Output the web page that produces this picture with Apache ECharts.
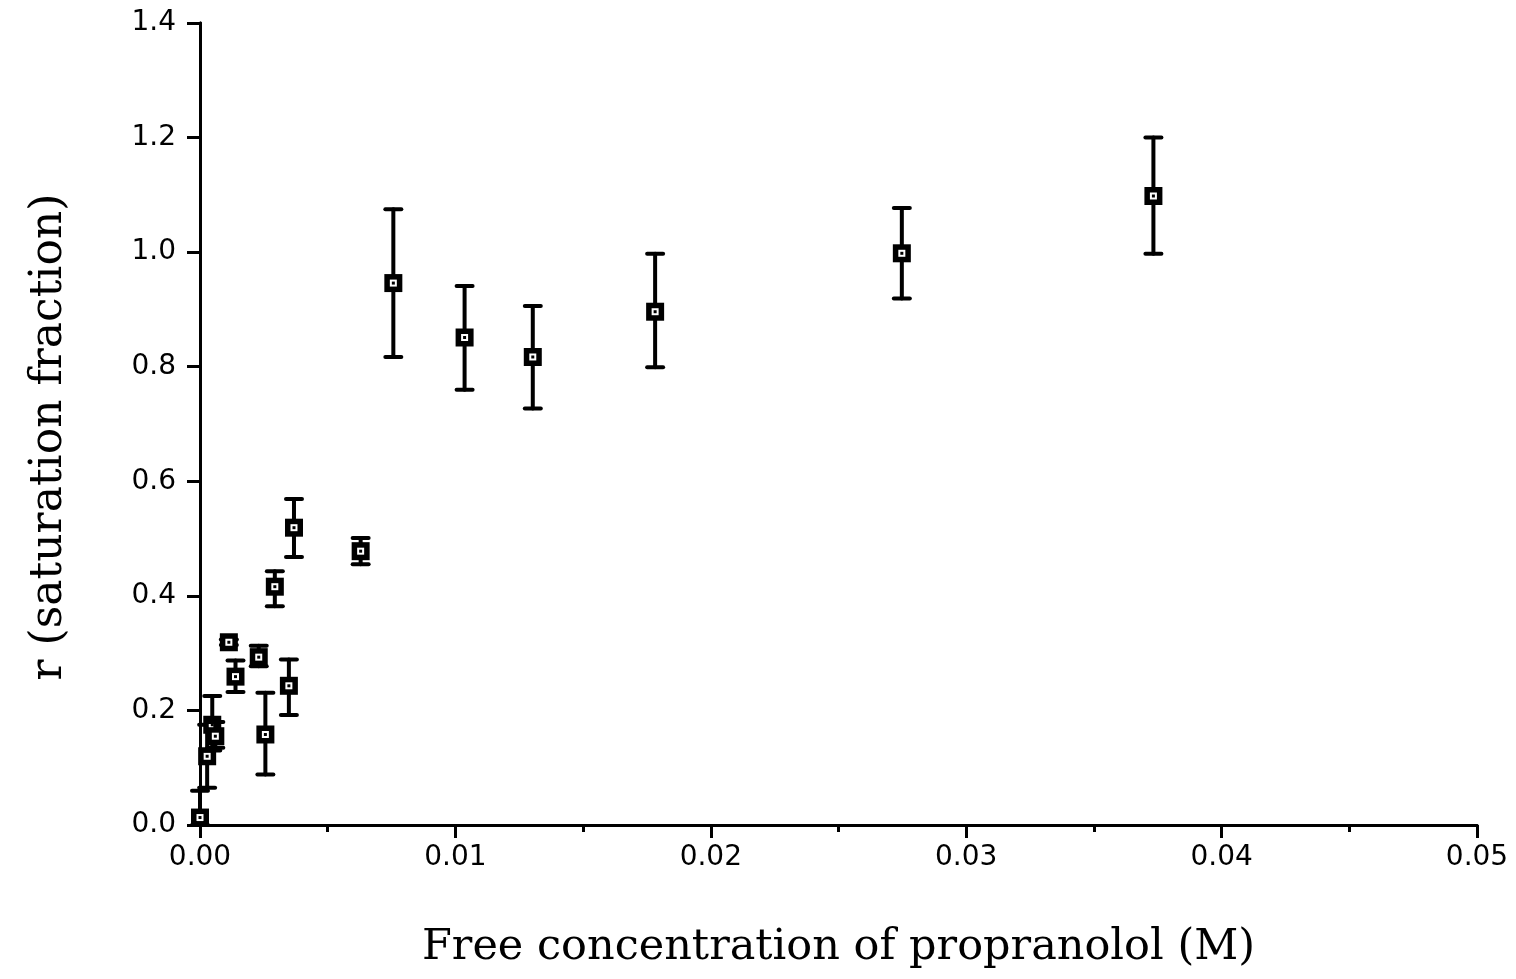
<!DOCTYPE html>
<html>
<head>
<meta charset="utf-8">
<script src="https://cdn.jsdelivr.net/npm/echarts@6/dist/echarts.min.js"></script>
<style>
html,body{margin:0;padding:0;background:#fff;}
#chart{width:1516px;height:979px;}
</style>
</head>
<body>
<div id="chart"></div>
<script>
// Free concentration of propranolol (M)
const conc   = [0.0000, 0.00028, 0.00048, 0.00060, 0.00113, 0.00139, 0.00230, 0.00256, 0.00293, 0.00348, 0.00368, 0.00629, 0.00757, 0.01036, 0.01303, 0.01782, 0.02748, 0.03733];
// r (saturation fraction)
const rVal   = [0.013, 0.120, 0.175, 0.155, 0.319, 0.259, 0.293, 0.158, 0.416, 0.243, 0.519, 0.478, 0.946, 0.851, 0.817, 0.896, 0.998, 1.098];
const rLow   = [0.000, 0.065, 0.130, 0.135, 0.314, 0.232, 0.277, 0.088, 0.382, 0.192, 0.468, 0.455, 0.817, 0.760, 0.727, 0.799, 0.919, 0.997];
const rHigh  = [0.060, 0.175, 0.225, 0.180, 0.324, 0.287, 0.313, 0.231, 0.443, 0.289, 0.569, 0.501, 1.075, 0.941, 0.906, 0.997, 1.077, 1.200];
const xTitle = 'Free concentration of propranolol (M)';
const yTitle = 'r (saturation fraction)';

const data = conc.map((c, i) => [c, rVal[i], rLow[i], rHigh[i]]);

const chart = echarts.init(document.getElementById('chart'), null, {renderer: 'canvas'});
const lbl = {color: '#000', fontFamily: 'DejaVu Sans', fontSize: 28};
const axLine = {show: true, lineStyle: {color: '#000', width: 3}};

chart.setOption({
  backgroundColor: '#fff',
  animation: false,
  grid: {left: 200, right: 39, top: 23, bottom: 154},
  xAxis: [{
    type: 'value', min: 0, max: 0.05, interval: 0.01, position: 'bottom',
    axisLine: axLine,
    axisTick: {show: true, length: 13, lineStyle: {color: '#000', width: 3}},
    minorTick: {show: true, splitNumber: 2, length: 7, lineStyle: {color: '#000', width: 3}},
    splitLine: {show: false},
    axisLabel: Object.assign({margin: 19, formatter: v => v.toFixed(2)}, lbl),
    name: xTitle, nameLocation: 'middle', nameGap: 101,
    nameTextStyle: {color: '#000', fontFamily: 'DejaVu Serif', fontSize: 43}
  }, {
    type: 'value', min: 0, max: 0.05, position: 'top',
    axisLine: axLine, axisTick: {show: false}, axisLabel: {show: false}, splitLine: {show: false}
  }],
  yAxis: [{
    type: 'value', min: 0, max: 1.4, interval: 0.2, position: 'left',
    axisLine: axLine,
    axisTick: {show: true, length: 13, lineStyle: {color: '#000', width: 3}},
    splitLine: {show: false},
    axisLabel: Object.assign({margin: 24, formatter: v => v.toFixed(1)}, lbl),
    name: yTitle, nameLocation: 'middle', nameGap: 128,
    nameTextStyle: {color: '#000', fontFamily: 'DejaVu Serif', fontSize: 44, padding: [0, 26, 0, 0]}
  }, {
    type: 'value', min: 0, max: 1.4, position: 'right',
    axisLine: axLine, axisTick: {show: false}, axisLabel: {show: false}, splitLine: {show: false}
  }],
  series: [{
    type: 'custom',
    xAxisIndex: 0, yAxisIndex: 0,
    data: data,
    renderItem: function (params, api) {
      const p = api.coord([api.value(0), api.value(1)]);
      const pl = api.coord([api.value(0), api.value(2)]);
      const ph = api.coord([api.value(0), api.value(3)]);
      const cap = 8, box = 18, ls = {stroke: '#000', lineWidth: 4, lineCap: 'round'};
      return {
        type: 'group',
        children: [
          {type: 'line', shape: {x1: p[0], y1: ph[1], x2: p[0], y2: pl[1]}, style: ls},
          {type: 'line', shape: {x1: p[0] - cap, y1: ph[1], x2: p[0] + cap, y2: ph[1]}, style: ls},
          {type: 'line', shape: {x1: p[0] - cap, y1: pl[1], x2: p[0] + cap, y2: pl[1]}, style: ls},
          {type: 'rect', shape: {x: p[0] - box / 2, y: p[1] - box / 2, width: box, height: box}, style: {fill: '#000'}},
          {type: 'rect', shape: {x: p[0] - 3.5, y: p[1] - 3.5, width: 7, height: 7}, style: {fill: '#fff'}},
          {type: 'rect', shape: {x: p[0] - 1.5, y: p[1] - 1.5, width: 3, height: 3}, style: {fill: '#000'}}
        ]
      };
    }
  }]
});
</script>
</body>
</html>
